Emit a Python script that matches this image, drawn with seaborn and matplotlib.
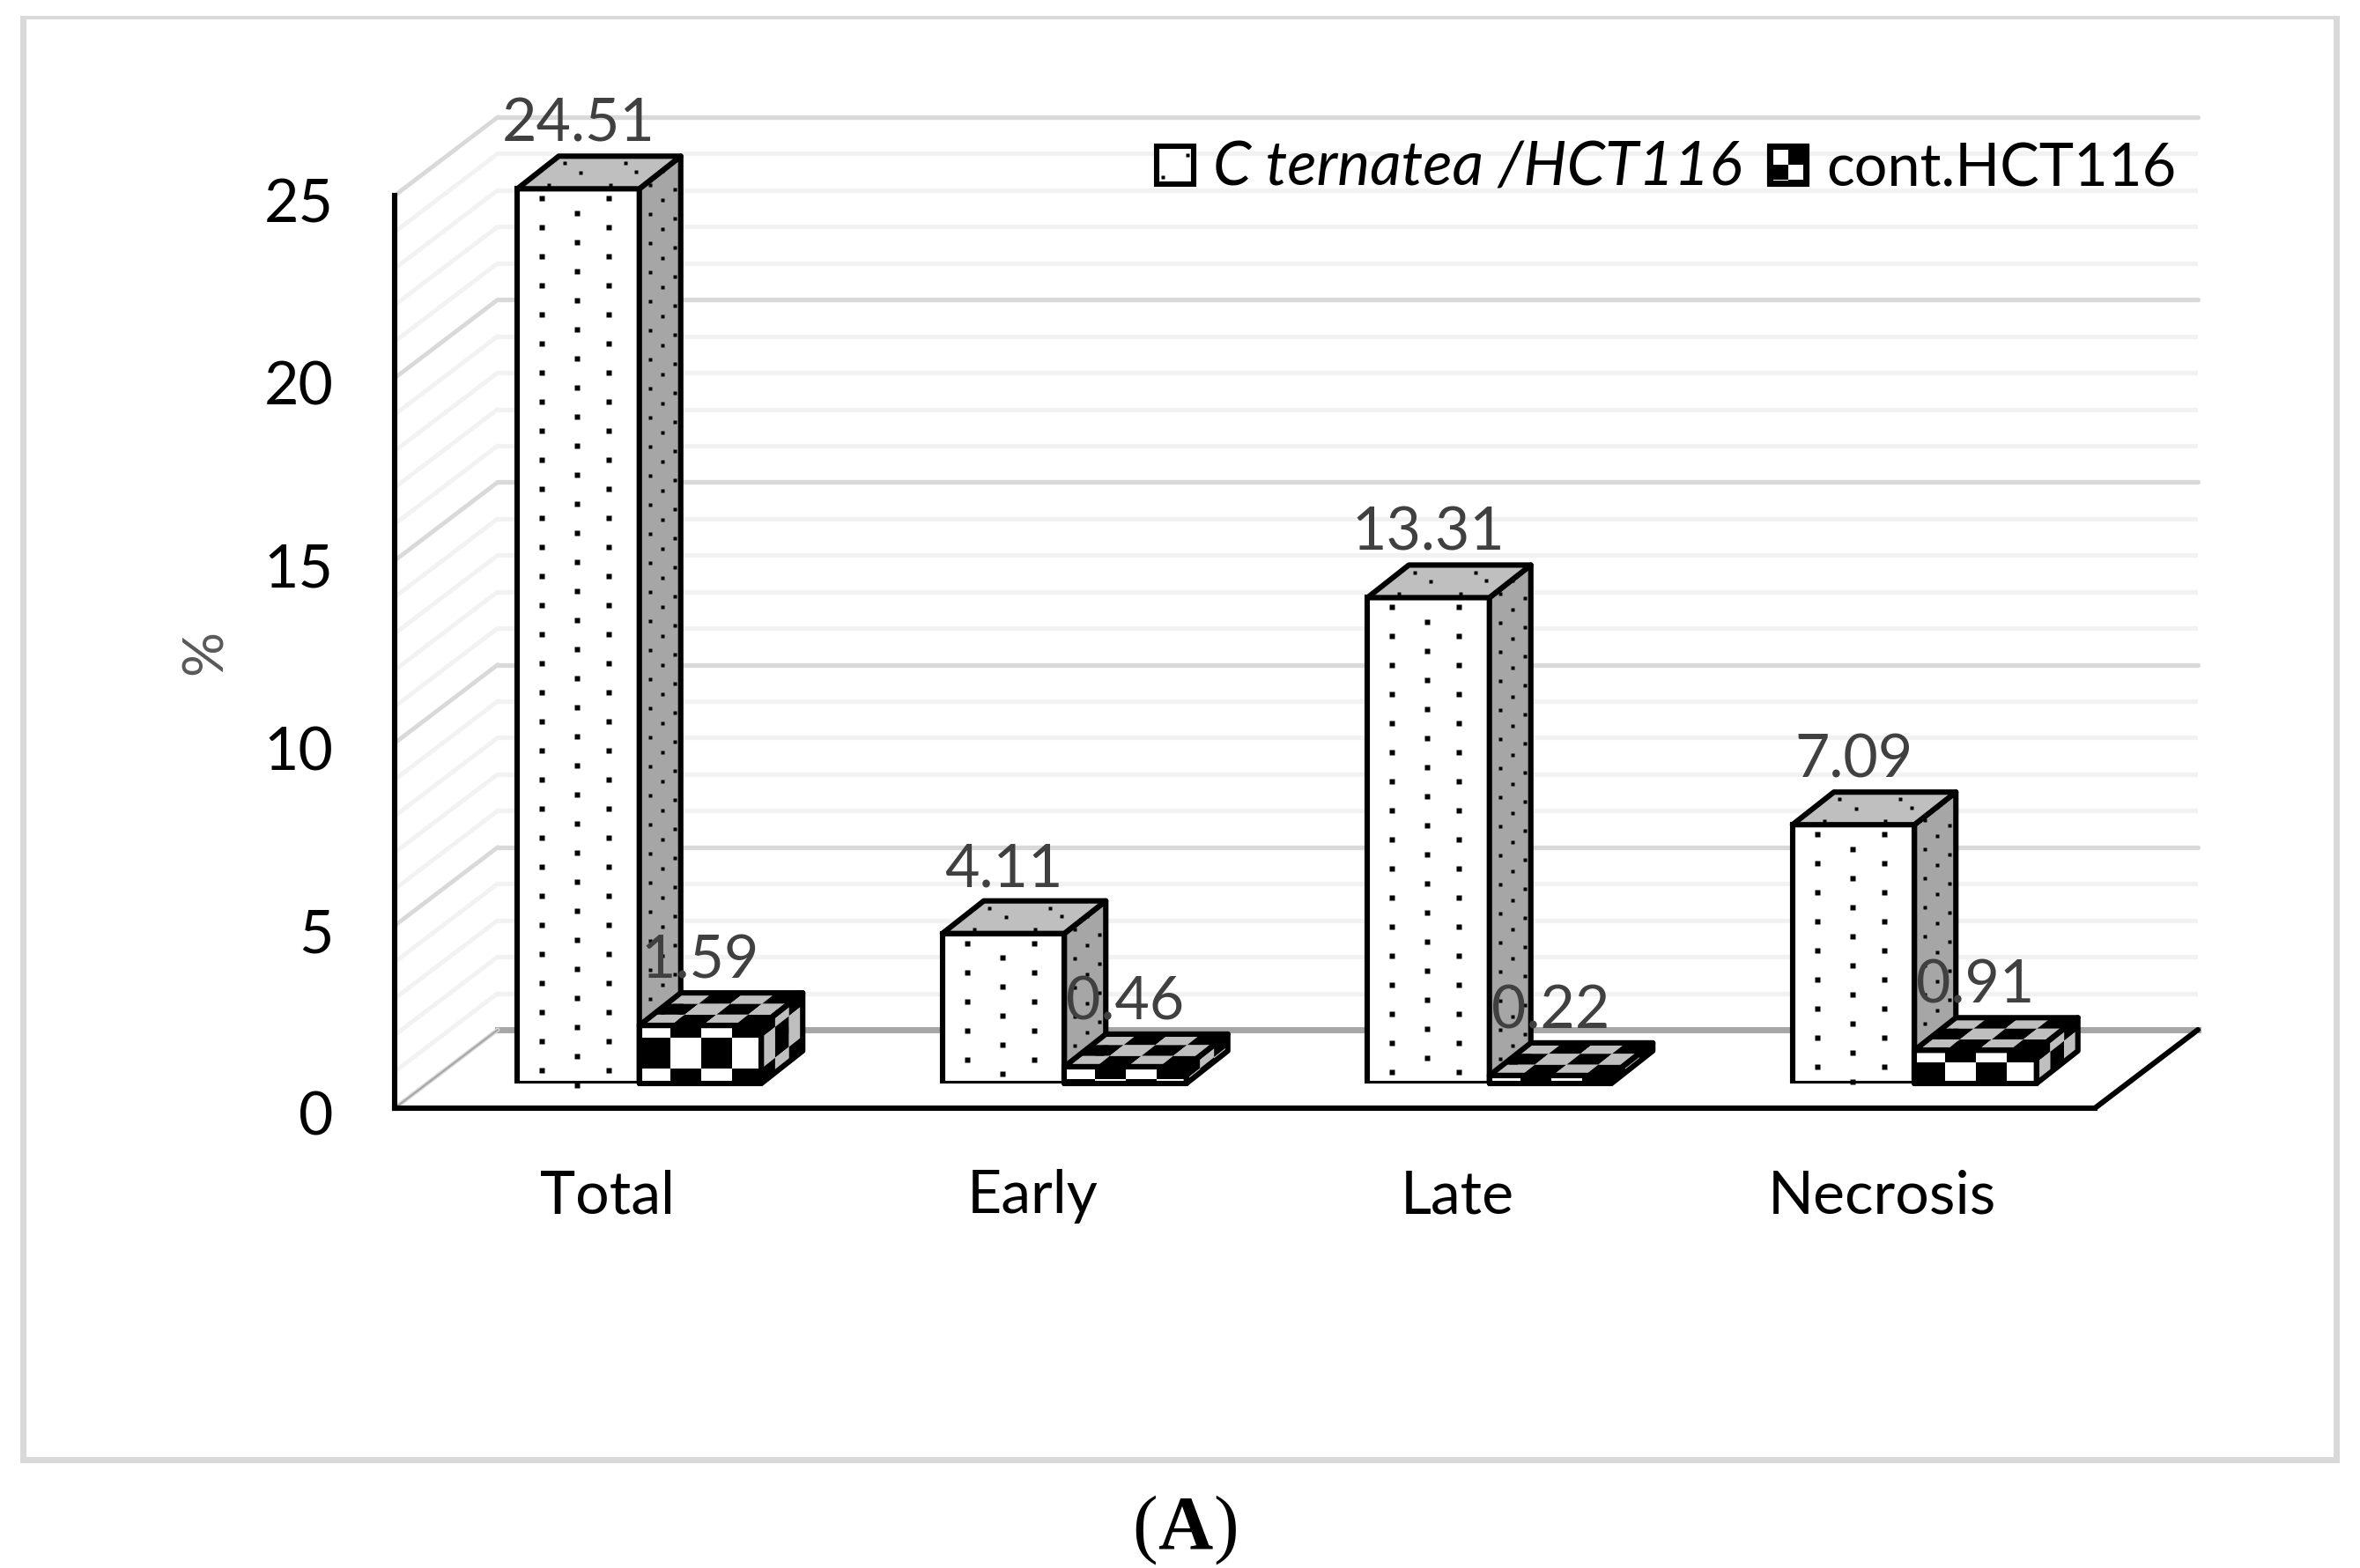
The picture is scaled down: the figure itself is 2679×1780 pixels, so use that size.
#!/usr/bin/env python3
import numpy as np
import pandas as pd
import seaborn as sns
import matplotlib.pyplot as plt
from matplotlib.patches import Patch, Polygon, Rectangle
from matplotlib.transforms import IdentityTransform, ScaledTranslation

categories = ["Total", "Early", "Late", "Necrosis"]
treated = [24.51, 4.11, 13.31, 7.09]
control = [1.59, 0.46, 0.22, 0.91]
series_names = ["C ternatea /HCT116", "cont.HCT116"]
major_ticks = [0, 5, 10, 15, 20, 25]
minor_ticks = [v for v in range(26) if v % 5]

W, H = 2679, 1780
sns.set_theme(style="white")
plt.rcParams["font.family"] = ["Lato", "DejaVu Sans"]

fig = plt.figure(figsize=(W / 100, H / 100), dpi=100, facecolor="white")
PX = IdentityTransform()


def rect(left, right, y_bottom, y_top):
    # pixels (origin top left) -> figure fractions
    return [left / W, 1 - y_bottom / H, (right - left) / W, (y_bottom - y_top) / H]


# outer frame: its sides are not equally thick, so two filled boxes
fig.add_artist(Rectangle((23 / W, 1 - 1661 / H), 2633 / W, 1643 / H, transform=fig.transFigure,
                         fc="#d9d9d9", ec="none", zorder=-2))
fig.add_artist(Rectangle((30 / W, 1 - 1654 / H), 2619 / W, 1632 / H, transform=fig.transFigure,
                         fc="white", ec="none", zorder=-1))

# back wall, front axis, bars: same scales, shifted along the depth
L, R, Y0, Y25 = 448, 2378, 1258, 222
ax_back = fig.add_axes(rect(L + 117, R + 117, Y0 - 89, Y25 - 89))
ax_front = fig.add_axes(rect(L, R, Y0, Y25))
ax_bars = fig.add_axes(rect(L + 36.5, R + 36.5, Y0 - 28, Y25 - 28))
for a in (ax_back, ax_front, ax_bars):
    a.patch.set_alpha(0)

ax_back.set_xlim(-0.5, 3.5)
ax_back.set_ylim(0, 25)
ax_back.set_yticks(major_ticks)
ax_back.set_yticks(minor_ticks, minor=True)
ax_back.set_xticks([])
ax_back.tick_params(which="both", length=0, labelleft=False)
ax_back.grid(True, axis="y", which="major", color="#d9d9d9", lw=3.8)
ax_back.grid(True, axis="y", which="minor", color="#f2f2f2", lw=3.8)
for l in ax_back.get_ygridlines():
    l.set_clip_on(False)
for s in ax_back.spines.values():
    s.set_visible(False)
ax_back.spines["bottom"].set_visible(True)
ax_back.spines["bottom"].set_color("#a6a6a6")
ax_back.spines["bottom"].set_linewidth(5)

# front axis
ax_front.set_xlim(-0.5, 3.5)
ax_front.set_ylim(0, 25)
ax_front.set_yticks(major_ticks)
ax_front.set_xticks(range(4))
ax_front.set_xticklabels(categories)
ax_front.tick_params(axis="x", length=0, pad=50, labelsize=49, labelcolor="black")
ax_front.tick_params(axis="y", length=0, pad=50, labelsize=49, labelcolor="black")
for t in ax_front.get_yticklabels():
    t.set_transform(t.get_transform() + ScaledTranslation(0, -4 / 72, fig.dpi_scale_trans))
ax_front.spines["top"].set_visible(False)
ax_front.spines["right"].set_visible(False)
for side in ("left", "bottom"):
    ax_front.spines[side].set_color("black")
    ax_front.spines[side].set_linewidth(4.4)
ax_front.set_ylabel("%", color="#595959", fontsize=46)
ax_front.yaxis.set_label_coords(-0.096, 0.5)

# side wall and floor edges, depth expressed in data units
depth_x = 117 / ((R - L) / 4)
depth_y = 89 / ((Y0 - Y25) / 25)
for v in minor_ticks + major_ticks:
    c = "#d9d9d9" if v % 5 == 0 else "#f2f2f2"
    ax_front.plot([-0.5, -0.5 + depth_x], [v, v + depth_y], color=c, lw=3.5, clip_on=False, zorder=0)
ax_front.plot([-0.5, -0.5 + depth_x], [0, depth_y], color="#a6a6a6", lw=1.5, clip_on=False, zorder=1)
ax_front.plot([3.5, 3.5 + depth_x], [0, depth_y], color="black", lw=4.4, clip_on=False,
              solid_capstyle="round", zorder=1)

# bars
df = pd.DataFrame({
    "group": categories * 2,
    "value": treated + control,
    "series": [series_names[0]] * 4 + [series_names[1]] * 4,
})
sns.barplot(data=df, x="group", y="value", hue="series", order=categories, hue_order=series_names,
            palette=["white", "black"], saturation=1, width=0.574, edgecolor="black", linewidth=4.4,
            legend=False, ax=ax_bars, zorder=1)
ax_bars.set_xlim(-0.5, 3.5)
ax_bars.set_ylim(0, 25)
ax_bars.set_xlabel("")
ax_bars.set_ylabel("")
ax_bars.axis("on")
ax_bars.set_xticks([])
ax_bars.set_yticks([])
for s in ax_bars.spines.values():
    s.set_visible(False)

DEPTH = np.array([47.0, 37.0])
EDGE = 4.4


def poly(ax, pts, fc, ec="none", lw=0, z=3):
    ax.add_patch(Polygon(pts, closed=True, fc=fc, ec=ec, lw=lw, transform=PX, clip_on=False,
                         zorder=z, joinstyle="round"))


def dots(ax, pts, z, ms=4.2):
    pts = np.array(pts).reshape(-1, 2)
    ax.plot(pts[:, 0], pts[:, 1], ls="", marker="s", ms=ms, mec="none", color="black",
            transform=PX, clip_on=False, zorder=z)


def checker(ax, origin, u, v, cell_u, cell_v, phase_v, cols, z):
    # chequered face; u and v are the edges of the face in pixels
    origin, u, v = map(np.asarray, (origin, u, v))
    len_u, len_v = np.hypot(*u), np.hypot(*v)
    hat_u, hat_v = u / len_u, v / len_v
    for i in range(int(len_u / cell_u) + 2):
        a0, a1 = i * cell_u, min((i + 1) * cell_u, len_u)
        if a0 >= len_u:
            continue
        for j in range(int((len_v + phase_v) / cell_v) + 2):
            b0, b1 = max(j * cell_v - phase_v, 0), min((j + 1) * cell_v - phase_v, len_v)
            if b1 <= b0:
                continue
            p = origin + a0 * hat_u + b0 * hat_v
            q = origin + a1 * hat_u + b0 * hat_v
            r = origin + a1 * hat_u + b1 * hat_v
            s = origin + a0 * hat_u + b1 * hat_v
            poly(ax, [p, q, r, s], cols[(i + j) % 2], z=z)


def corners(bar):
    x0, x1 = bar.get_x(), bar.get_x() + bar.get_width()
    y1 = bar.get_height()
    return ax_bars.transData.transform([(x0, 0), (x1, 0), (x1, y1), (x0, y1)])


for bar in ax_bars.containers[0].patches:
    bl, br, tr, tl = corners(bar)
    # front dots
    height = tl[1] - bl[1]
    pts = []
    for k in range(int((height - 8) / 16.5) + 1):
        y = tl[1] - 11 - 16.5 * k
        xs = [28, 104] if k % 2 == 0 else [68]
        pts += [(tl[0] + x, y) for x in xs]
    dots(ax_bars, pts, 2)
    # side and top
    poly(ax_bars, [br, br + DEPTH, tr + DEPTH, tr], "#a6a6a6", "black", EDGE, 3)
    poly(ax_bars, [tl, tr, tr + DEPTH, tl + DEPTH], "#bfbfbf", "black", EDGE, 3)
    pts = []
    for k in range(int(height / 33) + 1):
        for f, off in ((0.25, 12), (0.55, 17), (0.85, 25)):
            p = tr + DEPTH * f - np.array([0, off + 33 * k - 30 * f])
            if p[1] > br[1] + DEPTH[1] * f + 3:
                pts.append(p)
    tw = tr[0] - tl[0]
    for fu, fv in ((0.22, 0.12), (0.72, 0.12), (0.35, 0.5), (0.8, 0.52), (0.12, 0.78), (0.62, 0.78)):
        pts.append(tl + np.array([fu * tw, 0]) + DEPTH * fv)
    dots(ax_bars, pts, 3.2, ms=2.4)

for bar in ax_bars.containers[1].patches:
    bl, br, tr, tl = corners(bar)
    # top, side, then front chequers
    checker(ax_bars, tl, tr - tl, DEPTH, 36, 20, 0, ["#bfbfbf", "black"], 4)
    checker(ax_bars, tr, DEPTH, br - tr, 20, 35, 21, ["black", "#bfbfbf"], 4)
    checker(ax_bars, tl, tr - tl, bl - tl, 35, 35, 21, ["white", "black"], 4)
    poly(ax_bars, [br, br + DEPTH, tr + DEPTH, tr], "none", "black", EDGE, 4.5)
    poly(ax_bars, [tl, tr, tr + DEPTH, tl + DEPTH], "none", "black", EDGE, 4.5)
    poly(ax_bars, [bl, br, tr, tl], "none", "black", EDGE, 4.5)

for cont in ax_bars.containers:
    labels = ax_bars.bar_label(cont, fmt="%.2f", padding=30, fontsize=49, color="#404040")
    for t in labels:
        t.set_zorder(20)
        t.set_clip_on(False)

# legend
handles = [Patch(fc="white", ec="black", lw=4.4), Patch(fc="black", ec="black", lw=4.4)]
leg = ax_bars.legend(handles, series_names, ncol=2, frameon=False, loc="upper right",
                     bbox_to_anchor=(2470 / W, 1 - 160 / H), bbox_transform=fig.transFigure,
                     fontsize=48, handlelength=0.62, handleheight=0.62, handletextpad=0.33,
                     columnspacing=0.48, borderpad=0, borderaxespad=0, labelcolor="black")
leg.get_texts()[0].set_fontstyle("italic")
leg.get_texts()[0].set_fontsize(50)
leg.set_zorder(5)
fig.canvas.draw()
sw1, sw2 = [p.get_window_extent() for p in leg.get_patches()]
dots(ax_bars, [(sw1.x0 + 7, sw1.y0 + 8), (sw1.x1 - 7, sw1.y1 - 10)], 6, ms=3)
checker(ax_bars, (sw2.x0 + 4, sw2.y1 - 4), (sw2.width - 8, 0), (0, -(sw2.height - 8)), 17, 17, 0,
        ["white", "black"], 6)
poly(ax_bars, [(sw2.x0, sw2.y0), (sw2.x1, sw2.y0), (sw2.x1, sw2.y1), (sw2.x0, sw2.y1)],
     "none", "black", 4.4, 6.5)

# panel letter
serif = "Liberation Serif"
base_y = 1 - 1757 / H
fig.text(1345.5 / W, base_y, "A", ha="center", va="baseline", family=serif, weight="bold",
         fontsize=62, color="black")
fig.text(1299.5 / W, base_y, "(", ha="center", va="baseline", family=serif, fontsize=62, color="black")
fig.text(1391.5 / W, base_y, ")", ha="center", va="baseline", family=serif, fontsize=62, color="black")

fig.savefig("out.png", dpi=100, facecolor="white")
